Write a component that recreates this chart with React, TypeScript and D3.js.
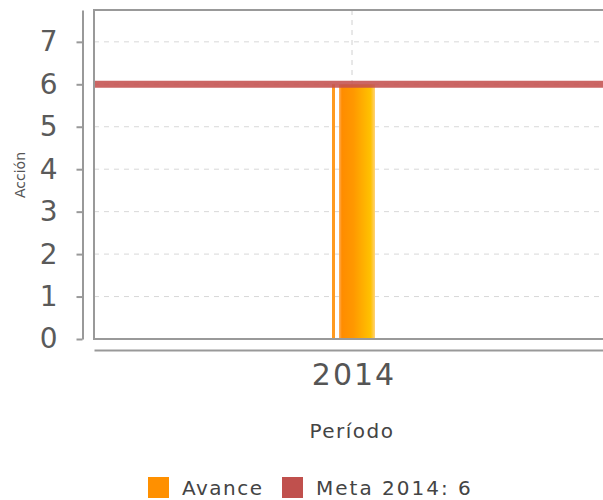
import { useRef, useEffect } from 'react';
import * as d3 from 'd3';

// datos del grafico
const periodos = ['2014'];
const avance = [6];
const meta = [6];
const yTicks = [0, 1, 2, 3, 4, 5, 6, 7];
const legendItems = ['Avance', 'Meta 2014: 6'];

const W = 603;
const H = 500;
const margin = { top: 10, right: -7, bottom: 161, left: 94 };

const App = () => {
  const chartRef = useRef<SVGSVGElement>(null);

  useEffect(() => {
    const svg = d3.select(chartRef.current);
    svg.selectAll('*').remove();

    const x = d3.scaleBand().domain(periodos).range([margin.left, W - margin.right]);
    const y = d3.scaleLinear().domain([0, 7.75]).range([H - margin.bottom, margin.top]);

    const defs = svg.append('defs');
    const grad = defs.append('linearGradient').attr('id', 'barGrad').attr('x1', '0%').attr('x2', '100%');
    grad.append('stop').attr('offset', '0%').attr('stop-color', '#ffb060');
    grad.append('stop').attr('offset', '8%').attr('stop-color', '#ff8c00');
    grad.append('stop').attr('offset', '40%').attr('stop-color', '#ff9800');
    grad.append('stop').attr('offset', '88%').attr('stop-color', '#ffc200');
    grad.append('stop').attr('offset', '100%').attr('stop-color', '#ffd27a');

    const font = '"DejaVu Sans", sans-serif';

    // grid
    const g = svg.append('g');
    g.selectAll('.grid')
      .data(yTicks.filter((t) => t > 0))
      .join('line')
      .attr('x1', margin.left)
      .attr('x2', W)
      .attr('y1', (d) => y(d))
      .attr('y2', (d) => y(d))
      .attr('stroke', '#d8d8d8')
      .attr('stroke-width', 1)
      .attr('stroke-dasharray', '5,5');

    g.selectAll('.vgrid')
      .data(periodos)
      .join('line')
      .attr('x1', (d) => x(d)! + x.bandwidth() / 2)
      .attr('x2', (d) => x(d)! + x.bandwidth() / 2)
      .attr('y1', margin.top)
      .attr('y2', y(0))
      .attr('stroke', '#d0d0d0')
      .attr('stroke-dasharray', '5,5');

    // barras
    const cx = (d: string) => x(d)! + x.bandwidth() / 2;
    g.selectAll('.stripe')
      .data(periodos)
      .join('rect')
      .attr('x', (d) => cx(d) - 20)
      .attr('y', (d, i) => y(avance[i]))
      .attr('width', 3)
      .attr('height', (d, i) => y(0) - y(avance[i]))
      .attr('fill', '#ff9a20');

    g.selectAll('.bar')
      .data(periodos)
      .join('rect')
      .attr('x', (d) => cx(d) - 13)
      .attr('y', (d, i) => y(avance[i]))
      .attr('width', 36)
      .attr('height', (d, i) => y(0) - y(avance[i]))
      .attr('fill', 'url(#barGrad)');

    // linea meta
    g.selectAll('.meta')
      .data(meta)
      .join('line')
      .attr('x1', margin.left)
      .attr('x2', W)
      .attr('y1', (d) => y(d))
      .attr('y2', (d) => y(d))
      .attr('stroke', '#c4514f')
      .attr('stroke-opacity', 0.88)
      .attr('stroke-width', 7);

    // borde del area
    g.append('rect')
      .attr('x', margin.left)
      .attr('y', margin.top)
      .attr('width', W - margin.right - margin.left)
      .attr('height', y(0) - margin.top)
      .attr('fill', 'none')
      .attr('stroke', '#999')
      .attr('stroke-width', 2);

    // eje Y
    const gy = svg.append('g').attr('transform', `translate(82.5,0)`)
      .call(d3.axisLeft(y).tickValues(yTicks).tickSize(6).tickSizeOuter(0).tickPadding(19).tickFormat(d3.format('d')));
    gy.select('.domain').attr('stroke', '#999').attr('stroke-width', 2);
    gy.selectAll('.tick line').attr('stroke', '#999').attr('stroke-width', 2);
    gy.selectAll('text')
      .attr('fill', '#5a5a5a')
      .style('font-family', font)
      .style('font-size', '28px');

    // eje X
    const gx = svg.append('g').attr('transform', `translate(0,350)`)
      .call(d3.axisBottom(x).tickSize(0).tickSizeOuter(0).tickPadding(14));
    gx.select('.domain').attr('stroke', '#999').attr('stroke-width', 2);
    gx.selectAll('text')
      .attr('fill', '#555')
      .attr('dy', '0.71em')
      .attr('dx', 2)
      .style('font-family', font)
      .style('font-size', '30px')
      .style('letter-spacing', '2px');

    // titulos de ejes
    svg.append('text')
      .attr('x', cx(periodos[0]))
      .attr('y', 438)
      .attr('text-anchor', 'middle')
      .attr('fill', '#444')
      .style('font-family', font)
      .style('font-size', '20px')
      .style('letter-spacing', '1.5px')
      .text('Período');

    svg.append('text')
      .attr('transform', 'translate(25,175) rotate(-90)')
      .attr('text-anchor', 'middle')
      .attr('fill', '#555')
      .style('font-family', font)
      .style('font-size', '14px')
      .text('Acción');

    // leyenda
    const legendColors = ['#ff9000', '#c0504d'];
    const legendX = [148, 282];
    const lg = svg.append('g').selectAll('g').data(legendItems).join('g')
      .attr('transform', (d, i) => `translate(${legendX[i]},477)`);
    lg.append('rect').attr('width', 21).attr('height', 21).attr('fill', (d, i) => legendColors[i]);
    lg.append('text')
      .attr('x', 34)
      .attr('y', 18)
      .attr('fill', '#444')
      .style('font-family', font)
      .style('font-size', '20px')
      .style('letter-spacing', (d, i) => (i === 0 ? '1.5px' : '2px'))
      .text((d) => d);
  }, []);

  return (
    <svg
      ref={chartRef}
      width={W}
      height={H}
      style={{ position: 'absolute', top: 0, left: 0, background: '#fff' }}
    ></svg>
  );
};

export default App;
